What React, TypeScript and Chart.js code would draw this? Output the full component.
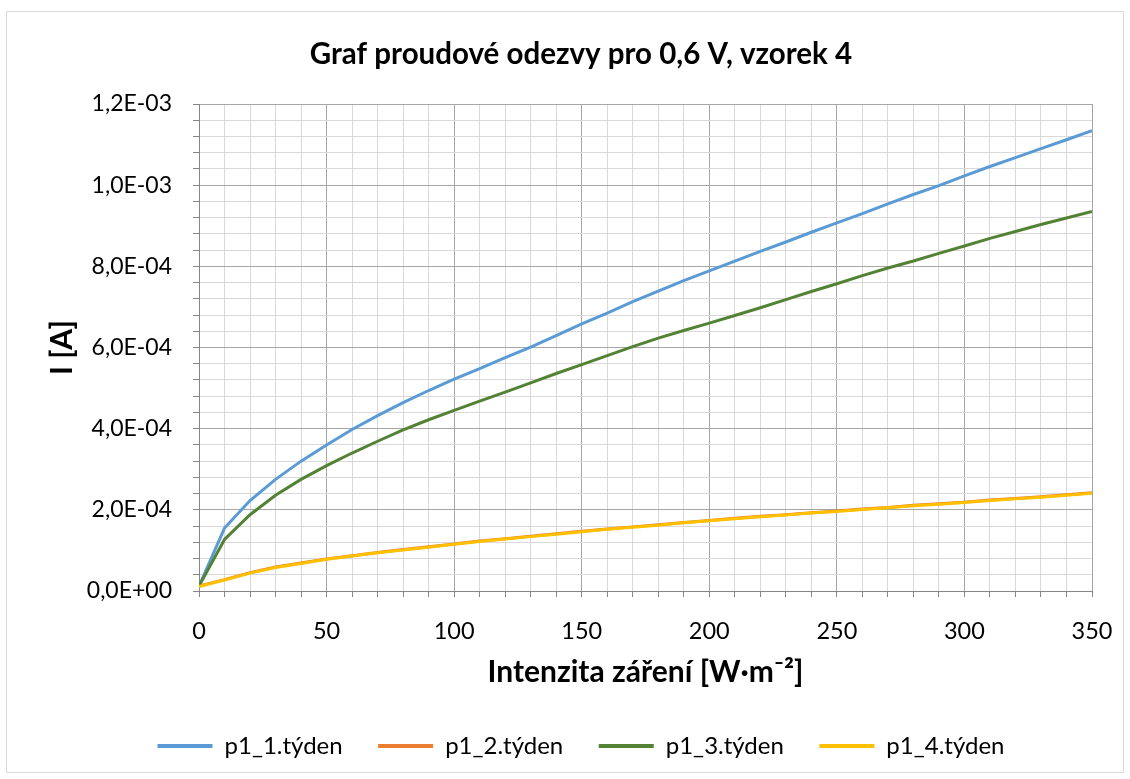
import React, { useEffect, useRef } from "react";
import { Chart, registerables } from "chart.js";

Chart.register(...registerables);

const chartTitle = "Graf proudové odezvy pro 0,6 V, vzorek 4";
const xAxisTitle = "Intenzita záření [W·m⁻²]";
const yAxisTitle = "I [A]";

const intensity = [0, 10, 20, 30, 40, 50, 60, 70, 80, 90, 100, 110, 120, 130, 140, 150, 160, 170, 180, 190, 200, 210, 220, 230, 240, 250, 260, 270, 280, 290, 300, 310, 320, 330, 340, 350];

const seriesNames = ["p1_1.týden", "p1_2.týden", "p1_3.týden", "p1_4.týden"];
const seriesColors = ["#5B9BD5", "#ED7D31", "#548235", "#FFC000"];

const week1 = [1.2e-5, 1.55e-4, 2.23e-4, 2.75e-4, 3.2e-4, 3.6e-4, 3.98e-4, 4.32e-4, 4.64e-4, 4.94e-4, 5.22e-4, 5.48e-4, 5.75e-4, 6.01e-4, 6.29e-4, 6.58e-4, 6.85e-4, 7.13e-4, 7.39e-4, 7.65e-4, 7.89e-4, 8.13e-4, 8.37e-4, 8.6e-4, 8.84e-4, 9.07e-4, 9.3e-4, 9.54e-4, 9.77e-4, 9.99e-4, 1.023e-3, 1.046e-3, 1.068e-3, 1.09e-3, 1.112e-3, 1.134e-3];
const week2 = [1.2e-5, 2.8e-5, 4.5e-5, 5.9e-5, 6.9e-5, 7.9e-5, 8.7e-5, 9.5e-5, 1.02e-4, 1.09e-4, 1.16e-4, 1.23e-4, 1.29e-4, 1.35e-4, 1.41e-4, 1.47e-4, 1.53e-4, 1.58e-4, 1.63e-4, 1.69e-4, 1.74e-4, 1.79e-4, 1.84e-4, 1.88e-4, 1.93e-4, 1.97e-4, 2.02e-4, 2.06e-4, 2.11e-4, 2.15e-4, 2.19e-4, 2.24e-4, 2.28e-4, 2.32e-4, 2.37e-4, 2.42e-4];
const week3 = [1.2e-5, 1.27e-4, 1.88e-4, 2.36e-4, 2.75e-4, 3.09e-4, 3.4e-4, 3.69e-4, 3.97e-4, 4.22e-4, 4.45e-4, 4.68e-4, 4.9e-4, 5.13e-4, 5.36e-4, 5.58e-4, 5.8e-4, 6.02e-4, 6.23e-4, 6.42e-4, 6.6e-4, 6.79e-4, 6.98e-4, 7.18e-4, 7.38e-4, 7.57e-4, 7.77e-4, 7.96e-4, 8.13e-4, 8.32e-4, 8.5e-4, 8.69e-4, 8.86e-4, 9.03e-4, 9.19e-4, 9.35e-4];
const week4 = [1.1e-5, 2.7e-5, 4.4e-5, 5.8e-5, 6.8e-5, 7.8e-5, 8.6e-5, 9.4e-5, 1.01e-4, 1.08e-4, 1.15e-4, 1.22e-4, 1.28e-4, 1.34e-4, 1.4e-4, 1.46e-4, 1.52e-4, 1.57e-4, 1.62e-4, 1.68e-4, 1.73e-4, 1.78e-4, 1.83e-4, 1.87e-4, 1.92e-4, 1.96e-4, 2.01e-4, 2.05e-4, 2.1e-4, 2.14e-4, 2.18e-4, 2.23e-4, 2.27e-4, 2.31e-4, 2.36e-4, 2.41e-4];

const xMin = 0;
const xMax = 350;
const xMinorStep = 10;
const xMajorStep = 50;
const yMin = 0;
const yMax = 0.0012;
const yMinorStep = 0.00004;
const yMajorEvery = 5;

const FONT = "Lato, 'Open Sans', sans-serif";
const MAJOR_GRID = "#a6a6a6";
const MINOR_GRID = "#d9d9d9";
const AXIS_COLOR = "#868686";

function formatSci(v: number): string {
  const s = v.toExponential(1);
  const [mant, exp] = s.split("e");
  const sign = exp.startsWith("-") ? "-" : "+";
  const digits = exp.replace(/^[-+]/, "").padStart(2, "0");
  return mant.replace(".", ",") + "E" + sign + digits;
}

export default function App() {
  const canvasRef = useRef<HTMLCanvasElement | null>(null);

  useEffect(() => {
    const canvas = canvasRef.current;
    if (!canvas) return;
    const allSeries = [week1, week2, week3, week4];
    const datasets = allSeries.map((vals, i) => ({
      label: seriesNames[i],
      data: intensity.map((x, j) => ({ x, y: vals[j] })),
      borderColor: seriesColors[i],
      backgroundColor: seriesColors[i],
      borderWidth: 3,
      pointRadius: 0,
      tension: 0,
      fill: false,
      order: 4 - i,
      yAxisID: "y",
      xAxisID: "x",
    }));

    const chart = new Chart(canvas, {
      type: "line",
      data: { datasets },
      options: {
        animation: false,
        responsive: false,
        devicePixelRatio: 1,
        events: [],
        layout: { padding: { top: 36, left: 44, right: 12, bottom: 11 } },
        plugins: {
          tooltip: { enabled: false },
          title: {
            display: true,
            text: chartTitle,
            color: "#000",
            font: { family: FONT, size: 29.5, weight: "bold" },
            padding: { top: 1, bottom: 31.6 },
          },
          legend: {
            display: true,
            position: "bottom",
            labels: {
              color: "#000",
              font: { family: FONT, size: 24 },
              boxWidth: 55,
              boxHeight: 4,
              padding: 35.5,
              sort: (a: any, b: any) => a.datasetIndex - b.datasetIndex,
              generateLabels: (ch: any) => {
                const items = Chart.defaults.plugins.legend.labels.generateLabels(ch);
                return items.map((it: any) => ({
                  ...it,
                  fillStyle: seriesColors[it.datasetIndex],
                  strokeStyle: seriesColors[it.datasetIndex],
                  lineWidth: 0,
                }));
              },
            },
          },
        },
        scales: {
          x: {
            type: "linear",
            position: "bottom",
            min: xMin,
            max: xMax,
            afterFit: (s: any) => {
              s.height = 107.5;
              s.paddingLeft = 0;
              s.paddingRight = 0;
            },
            ticks: {
              stepSize: xMinorStep,
              autoSkip: false,
              maxRotation: 0,
              padding: 20,
              color: "#000",
              font: { family: FONT, size: 23.5 },
              callback: (v: any) => (Math.round(Number(v)) % xMajorStep === 0 ? String(Math.round(Number(v))) : ""),
            },
            grid: {
              color: (ctx: any) =>
                ctx.tick && Math.round(ctx.tick.value) % xMajorStep === 0 ? MAJOR_GRID : MINOR_GRID,
              lineWidth: 1,
              drawTicks: true,
              tickLength: 6,
              tickColor: AXIS_COLOR,
            },
            border: { display: true, color: AXIS_COLOR, width: 1 },
            title: {
              display: true,
              text: xAxisTitle,
              color: "#000",
              font: { family: FONT, size: 30, weight: "bold" },
              padding: { top: 0, bottom: 8.5 },
            },
          },
          y: {
            type: "linear",
            position: "left",
            min: yMin,
            max: yMax,
            afterFit: (s: any) => {
              s.width = 155;
              s.paddingTop = 0;
              s.paddingBottom = 0;
            },
            ticks: {
              stepSize: yMinorStep,
              autoSkip: false,
              padding: 21,
              color: "#000",
              font: { family: FONT, size: 23 },
              callback: (v: any) => {
                const n = Math.round(Number(v) / yMinorStep);
                return n % yMajorEvery === 0 ? formatSci(n * yMinorStep) : "";
              },
            },
            grid: {
              color: (ctx: any) =>
                ctx.tick && Math.round(ctx.tick.value / yMinorStep) % yMajorEvery === 0 ? MAJOR_GRID : MINOR_GRID,
              lineWidth: 1,
              drawTicks: true,
              tickLength: 6,
              tickColor: AXIS_COLOR,
            },
            border: { display: true, color: AXIS_COLOR, width: 1 },
            title: {
              display: true,
              text: yAxisTitle,
              color: "#000",
              font: { family: FONT, size: 30, weight: "bold" },
              padding: { top: 0, bottom: 0 },
            },
          },
          yRight: {
            type: "linear",
            position: "right",
            min: 0,
            max: 1,
            display: true,
            afterFit: (s: any) => {
              s.width = 26;
            },
            ticks: { display: false },
            grid: { display: false, drawTicks: false },
            border: { display: false },
          },
        },
      },
    } as any);

    return () => {
      chart.destroy();
    };
  }, []);

  return (
    <div style={{ position: "absolute", left: 0, top: 0, width: 1130, height: 779, background: "#fff" }}>
      <div
        style={{
          position: "absolute",
          left: 6,
          top: 11,
          width: 1116,
          height: 760,
          border: "1px solid #d9d9d9",
        }}
      />
      <canvas
        ref={canvasRef}
        width={1130}
        height={779}
        style={{ position: "absolute", left: 0, top: 0, width: 1130, height: 779 }}
      />
    </div>
  );
}
